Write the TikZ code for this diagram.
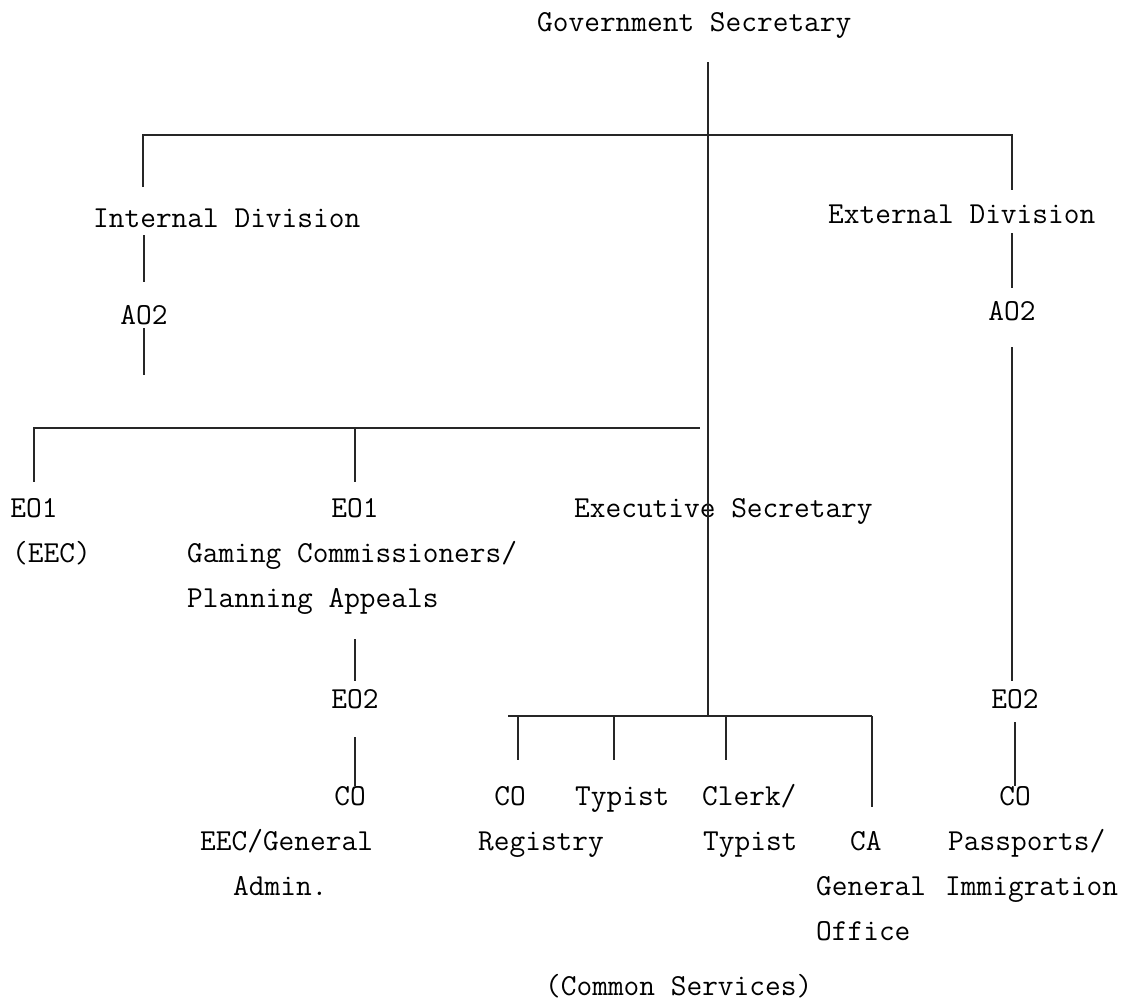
\documentclass[tikz,border=0pt]{standalone}
\usepackage{fontspec}
\begin{document}
\begin{tikzpicture}[x=1pt,y=-1pt,
  lbl/.style={inner sep=0pt, font=\fontsize{30.5}{36}\selectfont\ttfamily},
  link/.style={line width=1.9pt, draw=black!85}]
\useasboundingbox (0,0) rectangle (1129,1004);

% ---- labels ----
\node[lbl,anchor=base west] (gs) at (537,31) {Government Secretary};
\node[lbl,anchor=base west] (intdiv) at (93,227) {Internal Division};
\node[lbl,anchor=base west] (extdiv) at (828,223) {External Division};
\node[lbl,anchor=base] (ao2l) at (144,324) {AO2};
\node[lbl,anchor=base] (ao2r) at (1012,320) {AO2};

\node[lbl,anchor=base] (eo1l) at (34,517) {EO1};
\node[lbl,anchor=base west] (eec) at (12,562) {(EEC)};
\node[lbl,anchor=base] (eo1m) at (355,517) {EO1};
\node[lbl,anchor=base west] (gaming) at (187,562) {Gaming Commissioners/};
\node[lbl,anchor=base west] (planning) at (187,607) {Planning Appeals};
\node[lbl,anchor=base west] (exsec) at (574,517) {Executive Secretary};

\node[lbl,anchor=base] (eo2m) at (355,708) {EO2};
\node[lbl,anchor=base] (com) at (350,805) {CO};
\node[lbl,anchor=base west] (eecgen) at (200,850) {EEC/General};
\node[lbl,anchor=base west] (admin) at (233,895) {Admin.};

\node[lbl,anchor=base] (eo2r) at (1015,708) {EO2};
\node[lbl,anchor=base] (cor) at (1015,805) {CO};
\node[lbl,anchor=base west] (pass) at (948,850) {Passports/};
\node[lbl,anchor=base west] (immig) at (945,895) {Immigration};

\node[lbl,anchor=base] (co1) at (510,805) {CO};
\node[lbl,anchor=base west] (registry) at (478,850) {Registry};
\node[lbl,anchor=base west] (typist1) at (575,805) {Typist};
\node[lbl,anchor=base west] (clerk) at (702,805) {Clerk/};
\node[lbl,anchor=base west] (typist2) at (703,850) {Typist};
\node[lbl,anchor=base west] (ca) at (850,850) {CA};
\node[lbl,anchor=base west] (general) at (816,895) {General};
\node[lbl,anchor=base west] (office) at (816,940) {Office};
\node[lbl,anchor=base west] (common) at (545,995) {(Common Services)};

% ---- junction points ----
\coordinate (gsj) at (708,135);
\coordinate (csj) at (708,716);
\coordinate (tl) at (143,135);
\coordinate (tr) at (1012,135);
\coordinate (el) at (33,428);
\coordinate (er) at (700,428);
\coordinate (csl) at (508,716);
\coordinate (csr) at (872,716);

% ---- spine and top bar ----
\draw[link] (gs.base -| gsj) ++(0,31) -- (csj);
\draw[link] ([yshift=21pt]tl |- intdiv.north) -- (tl) -- (tr) -- ++(0,55);

% ---- internal division ----
\draw[link] (intdiv.base -| ao2l) ++(0,8) -- ++(0,47);
\draw[link] (ao2l.base) ++(0,4) -- ++(0,47);

% ---- external division ----
\draw[link] (extdiv.base -| ao2r) ++(0,10) -- ++(0,55);
\draw[link] (ao2r.base) ++(0,27) -- ([yshift=8pt]ao2r.base |- eo2r.north);
\draw[link] (eo2r.base) ++(0,14) -- (eo2r.base |- cor.north);

% ---- executive officers ----
\draw[link] ([yshift=16pt]eo1l.north) -- (eo1l |- el) -- (er);
\draw[link] (eo1m |- el) -- ([yshift=16pt]eo1m.north);
\draw[link] (planning.base -| eo2m) ++(0,32) -- ([yshift=8pt]eo2m.north);
\draw[link] (eo2m.base) ++(0,29) -- (eo2m.base |- com.north);

% ---- common services ----
\draw[link] (csl) -- (csr);
\foreach \x in {518,614,726}
  \draw[link] (csl -| \x,0) -- ++(0,44);
\draw[link] (csr) -- ++(0,91);
\end{tikzpicture}
\end{document}
